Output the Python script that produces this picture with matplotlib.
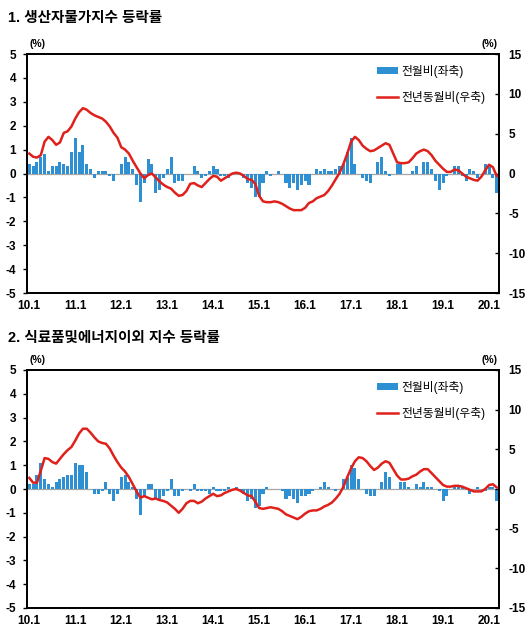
import numpy as np
import matplotlib.pyplot as plt
from matplotlib.patches import Patch
from matplotlib.lines import Line2D

plt.rcParams['font.family'] = ['Liberation Sans', 'Noto Sans CJK KR']
plt.rcParams['axes.unicode_minus'] = False

tick_labels = ['10.1', '11.1', '12.1', '13.1', '14.1', '15.1',
               '16.1', '17.1', '18.1', '19.1', '20.1']

# 1. 생산자물가지수 - 전월비(%), 전년동월비(%)
ppi_mom = [0.4, 0.3, 0.5, 0.7, 0.8, 0.1, 0.3, 0.3, 0.5, 0.4, 0.3, 0.9, 1.5, 0.9, 1.2, 0.4,
           0.2, -0.2, 0.1, 0.1, 0.1, -0.1, -0.3, 0.0, 0.4, 0.7, 0.5, 0.2, -0.5, -1.2, -0.4, 0.6,
           0.4, -0.8, -0.7, -0.2, 0.2, 0.7, -0.4, -0.3, -0.3, 0.0, 0.0, 0.3, 0.1, -0.2, -0.1, 0.1,
           0.3, 0.2, -0.1, -0.1, -0.2, 0.0, 0.0, 0.0, -0.2, -0.4, -0.6, -1.0, -1.0, -0.4, 0.1, -0.1,
           0.0, 0.1, 0.0, -0.4, -0.6, -0.4, -0.7, -0.5, -0.3, -0.5, 0.0,
           0.2, 0.1, 0.2, 0.1, 0.1, 0.2, 0.3, 0.4, 0.9, 1.5, 0.4, 0.0, -0.2, -0.3, -0.4, 0.0,
           0.5, 0.7, 0.1,
           -0.1, 0.0, 0.4, 0.4, 0.0, 0.0, 0.1, 0.3, 0.0, 0.5, 0.5, 0.2, -0.3, -0.7, -0.4, -0.1,
           0.0, 0.3, 0.3, -0.1, -0.3, 0.2, 0.1, -0.2, 0.0, 0.4, 0.3, -0.2, -0.8]
ppi_yoy = [2.5, 2.1, 2.0, 2.3, 4.0, 4.6, 4.2, 3.6, 3.9, 5.1, 5.3, 5.9, 6.9, 7.7, 8.2, 8.0,
           7.6, 7.3, 7.1, 6.9, 6.5, 5.9, 5.1, 4.5, 3.3, 3.0, 2.5, 1.6, 0.8, 0.0, -0.6, -0.2,
           0.0, -0.5, -1.0, -1.4, -1.7, -1.9, -2.4, -2.8, -2.7, -2.2, -1.3, -1.2, -1.5, -1.7, -1.2, -0.7,
           -0.3, -0.4, -0.9, -0.6, -0.3, 0.0, 0.1, 0.0, -0.3, -0.7, -0.8, -1.3, -2.8, -3.5, -3.6, -3.6,
           -3.5, -3.6, -3.8, -4.1, -4.4, -4.6, -4.6, -4.6, -4.3, -3.7, -3.5,
           -3.1, -2.9, -2.7, -2.2, -1.5, -0.7, 0.1, 1.2, 2.5, 4.0, 4.6, 4.2, 3.5, 3.1, 2.8, 2.9,
           3.2, 3.5, 3.8,
           3.6, 2.5, 1.4, 1.3, 1.3, 1.4, 1.9, 2.5, 2.8, 3.0, 2.8, 2.3, 1.6, 1.1, 0.6, 0.2,
           0.2, 0.5, 0.4, 0.0, -0.4, -0.6, -0.8, -0.9, -0.4, 0.4, 1.1, 0.8, -0.3]

# 2. 식료품및에너지이외 지수
core_mom = [0.2, 0.2, 0.6, 1.1, 0.4, 0.2, 0.1, 0.3, 0.4, 0.5, 0.6, 0.6, 1.1, 1.0, 1.0, 0.7,
            0.0, -0.2, -0.2, -0.1, 0.3, -0.2, -0.5, -0.2, 0.5, 0.6, 0.3, 0.1, -0.4, -1.1, -0.3, 0.2,
            0.2, -0.4, -0.4, -0.3, -0.1, 0.4, -0.3, -0.3, -0.1, 0.0, -0.1, 0.2, -0.1, -0.1, -0.1, -0.2,
            0.1, -0.1, -0.1, -0.1, 0.1, 0.0, 0.1, -0.1, -0.2, -0.5, -0.4, -0.8, -0.7, -0.2, 0.1,
            0.0, 0.0, 0.0, -0.1, -0.4, -0.3, -0.4, -0.6, -0.3, -0.3, -0.2, -0.1, 0.0, 0.1, 0.3, 0.1,
            0.0, -0.1, 0.0, 0.4, 0.5, 1.0, 0.9, 0.4, 0.0, -0.2, -0.3, -0.3, 0.0, 0.3,
            0.7, 0.5, 0.0, 0.0, 0.3, 0.3, 0.1, 0.0, 0.2, 0.1, 0.3, 0.1, 0.1, 0.0, -0.1, -0.5,
            -0.3, 0.0, 0.1, 0.1, 0.1, 0.0, -0.2, 0.0, 0.1, 0.0, -0.1, 0.1, 0.1, -0.5]
core_yoy = [1.4, 0.8, 0.8, 2.3, 3.9, 3.8, 3.4, 3.2, 3.8, 4.4, 4.9, 5.3, 6.1, 7.0, 7.6, 7.6,
            7.1, 6.5, 6.0, 5.8, 5.7, 5.1, 4.2, 3.4, 2.7, 2.2, 1.5, 0.6, -0.3, -1.1, -0.9, -1.1,
            -1.3, -1.2, -1.4, -1.5, -1.7, -2.1, -2.5, -3.0, -2.5, -1.8, -1.5, -1.5, -1.8, -1.6, -1.2, -0.9,
            -0.6, -0.9, -0.8, -0.5, -0.3, -0.1, 0.0, -0.2, -0.5, -0.8, -0.9, -1.6, -2.4, -2.5, -2.4,
            -2.3, -2.4, -2.5, -2.8, -3.2, -3.4, -3.6, -3.8, -3.5, -3.1, -2.8, -2.7, -2.7, -2.5, -2.2, -2.0,
            -1.7, -1.2, -0.6, 0.3, 1.5, 2.6, 3.5, 4.0, 3.9, 3.5, 2.9, 2.4, 2.7, 3.2,
            3.5, 3.3, 2.5, 1.7, 1.2, 1.2, 1.3, 1.6, 1.8, 2.2, 2.5, 2.5, 2.0, 1.5, 1.0, 0.5,
            0.3, 0.3, 0.4, 0.4, 0.3, 0.1, -0.1, -0.3, -0.3, -0.3, 0.0, 0.5, 0.6, 0.2]

BAR_COLOR = '#2f8fd3'
LINE_COLOR = '#e0201b'
W, H = 532, 641


def draw_panel(fig, top_px, bottom_px, mom, yoy, title, title_px):
    left_px, right_px = 27, 499
    rect = [left_px / W, 1 - bottom_px / H, (right_px - left_px) / W, (bottom_px - top_px) / H]
    ax = fig.add_axes(rect)
    x = np.arange(len(mom))
    ax.axhline(0, color='#a6a6a6', lw=0.9, zorder=1)
    ax.bar(x, mom, width=0.8, color=BAR_COLOR, zorder=2)
    ax.set_xlim(-0.6, len(mom) - 0.4)
    ax.set_ylim(-5, 5)
    ax.set_yticks(range(-5, 6))
    ax.set_xticks(range(0, 12 * len(tick_labels), 12))
    ax.set_xticklabels(tick_labels)
    ax.tick_params(axis='x', length=0, pad=5, labelsize=8.5)
    ax.tick_params(axis='y', length=3, width=1, labelsize=8.5, pad=5)
    for lab in ax.get_xticklabels() + ax.get_yticklabels():
        lab.set_fontweight('bold')

    ax2 = ax.twinx()
    ax2.plot(x, yoy, color=LINE_COLOR, lw=1.8, zorder=3)
    ax2.set_ylim(-15, 15)
    ax2.set_yticks(range(-15, 16, 5))
    ax2.tick_params(axis='y', direction='in', length=3, width=1, labelsize=8.5, pad=7)
    for lab in ax2.get_yticklabels():
        lab.set_fontweight('bold')
    for a in (ax, ax2):
        for sp in a.spines.values():
            sp.set_linewidth(1.3)

    handles = [Patch(facecolor=BAR_COLOR, edgecolor='none'),
               Line2D([0], [0], color=LINE_COLOR, lw=1.8)]
    ax2.legend(handles, ['전월비(좌축)', '전년동월비(우축)'], loc='upper left',
               bbox_to_anchor=(0.72, 1.0), frameon=False, fontsize=8.5,
               handlelength=1.7, handleheight=0.6, handletextpad=0.3, labelspacing=1.15)

    fig.text(8 / W, 1 - title_px / H, title, fontsize=10.5, fontweight='bold', va='center')
    fig.text(38 / W, 1 - (top_px - 10) / H, '(%)', fontsize=7.5, fontweight='bold',
             ha='center', va='center')
    fig.text(489 / W, 1 - (top_px - 10) / H, '(%)', fontsize=7.5, fontweight='bold',
             ha='center', va='center')


def main():
    fig = plt.figure(figsize=(W / 100, H / 100), dpi=100)
    draw_panel(fig, 54, 293, ppi_mom, ppi_yoy, '1. 생산자물가지수 등락률', 18)
    draw_panel(fig, 370, 608, core_mom, core_yoy, '2. 식료품및에너지이외 지수 등락률', 338)
    fig.savefig('out.png', dpi=100)
    plt.close(fig)


if __name__ == '__main__':
    main()
